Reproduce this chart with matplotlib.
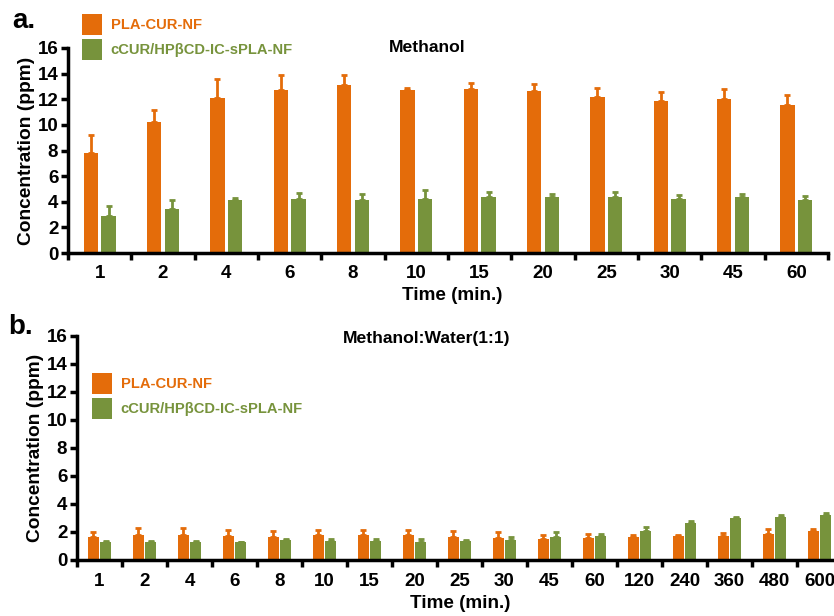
import matplotlib
matplotlib.use("Agg")
import matplotlib.pyplot as plt
import numpy as np

plt.rcParams['font.family'] = ['Liberation Sans', 'DejaVu Sans']
plt.rcParams['font.weight'] = 'bold'

ORANGE = '#E46C0A'
GREEN = '#77933C'

labels_a = ['1', '2', '4', '6', '8', '10', '15', '20', '25', '30', '45', '60']
pla_a = [7.8, 10.2, 12.1, 12.7, 13.1, 12.7, 12.8, 12.65, 12.2, 11.9, 12.0, 11.55]
pla_a_err = [1.4, 1.0, 1.5, 1.2, 0.8, 0.2, 0.5, 0.55, 0.7, 0.7, 0.8, 0.75]
ic_a = [2.9, 3.4, 4.1, 4.2, 4.1, 4.25, 4.35, 4.4, 4.4, 4.2, 4.35, 4.1]
ic_a_err = [0.75, 0.7, 0.2, 0.5, 0.5, 0.65, 0.4, 0.2, 0.35, 0.3, 0.25, 0.35]

labels_b = ['1', '2', '4', '6', '8', '10', '15', '20', '25', '30', '45', '60',
            '120', '240', '360', '480', '600']
pla_b = [1.64, 1.76, 1.76, 1.69, 1.64, 1.76, 1.76, 1.76, 1.66, 1.57, 1.52, 1.59,
         1.62, 1.69, 1.73, 1.88, 2.04]
pla_b_err = [0.36, 0.5, 0.54, 0.45, 0.43, 0.4, 0.4, 0.38, 0.43, 0.4, 0.26, 0.24,
             0.16, 0.09, 0.19, 0.35, 0.17]
ic_b = [1.28, 1.28, 1.28, 1.26, 1.43, 1.33, 1.33, 1.3, 1.33, 1.43, 1.66, 1.69,
        2.09, 2.66, 2.97, 3.09, 3.21]
ic_b_err = [0.1, 0.1, 0.1, 0.05, 0.09, 0.14, 0.19, 0.2, 0.1, 0.21, 0.31, 0.14,
            0.29, 0.12, 0.09, 0.14, 0.16]

series_names = ['PLA-CUR-NF', 'cCUR/HPβCD-IC-sPLA-NF']

fig = plt.figure(figsize=(8.34, 6.16), dpi=100)
W, H = 834.0, 616.0


def panel(ax, labels, v1, e1, v2, e2, width, off):
    x = np.arange(len(labels))
    b1 = ax.bar(x - off, v1, width, color=ORANGE, label=series_names[0], zorder=2)
    b2 = ax.bar(x + off, v2, width, color=GREEN, label=series_names[1], zorder=2)
    ax.errorbar(x - off, v1, yerr=[np.zeros(len(v1)), e1], fmt='none',
                ecolor=ORANGE, elinewidth=2, capsize=2.5, capthick=2, zorder=1)
    ax.errorbar(x + off, v2, yerr=[np.zeros(len(v2)), e2], fmt='none',
                ecolor=GREEN, elinewidth=2, capsize=2.5, capthick=2, zorder=1)
    ax.set_xlim(-0.5, len(labels) - 0.5)
    ax.set_ylim(0, 16)
    ax.set_yticks(np.arange(0, 17, 2))
    ax.set_xticks(x)
    ax.set_xticklabels(labels, fontsize=13.5, fontweight='bold')
    ax.set_xticks(np.arange(len(labels) + 1) - 0.5, minor=True)
    ax.tick_params(axis='x', which='major', length=0, pad=9)
    ax.tick_params(axis='x', which='minor', length=5, width=2.5, direction='out')
    ax.tick_params(axis='y', length=5, width=2.5, labelsize=13.5, pad=2)
    for t in ax.get_yticklabels():
        t.set_fontweight('bold')
    for s in ['top', 'right']:
        ax.spines[s].set_visible(False)
    ax.spines['left'].set_linewidth(2.5)
    ax.spines['bottom'].set_linewidth(2.5)
    ax.set_ylabel('Concentration (ppm)', fontsize=13.8, fontweight='bold', labelpad=2)
    return b1, b2


ax1 = fig.add_axes([68 / W, 1 - 253 / H, 760 / W, 205 / H])
h1 = panel(ax1, labels_a, pla_a, pla_a_err, ic_a, ic_a_err, 0.23, 0.14)
ax1.set_xlabel('Time (min.)', fontsize=13.6, fontweight='bold')
ax1.xaxis.set_label_coords((452 - 68) / 760, -(295 - 253) / 205)
ax1.xaxis.label.set_va('center')
fig.text(427 / W, 1 - 47 / H, 'Methanol', ha='center', va='center',
         fontsize=12.6, fontweight='bold')
fig.legend(handles=list(h1), loc='upper left', bbox_to_anchor=(82 / W, 1 - 14 / H),
           frameon=False, borderpad=0, borderaxespad=0, handlelength=1.35,
           handleheight=1.8, handletextpad=0.6, labelspacing=0.3,
           prop={'weight': 'bold', 'size': 10.6}, labelcolor=[ORANGE, GREEN])
fig.text(12 / W, 1 - 21 / H, 'a.', fontsize=20, fontweight='bold', va='center')

ax2 = fig.add_axes([77 / W, 1 - 560 / H, 765 / W, 224 / H])
h2 = panel(ax2, labels_b, pla_b, pla_b_err, ic_b, ic_b_err, 0.25, 0.14)
ax2.set_xlabel('Time (min.)', fontsize=13.6, fontweight='bold')
ax2.xaxis.set_label_coords((460 - 77) / 765, -(603 - 560) / 224)
ax2.xaxis.label.set_va('center')
fig.text(427 / W, 1 - 338 / H, 'Methanol:Water(1:1)', ha='center', va='center',
         fontsize=12.6, fontweight='bold')
fig.legend(handles=list(h2), loc='upper left', bbox_to_anchor=(92 / W, 1 - 373 / H),
           frameon=False, borderpad=0, borderaxespad=0, handlelength=1.35,
           handleheight=1.8, handletextpad=0.6, labelspacing=0.3,
           prop={'weight': 'bold', 'size': 10.6}, labelcolor=[ORANGE, GREEN])
fig.text(8 / W, 1 - 327 / H, 'b.', fontsize=20, fontweight='bold', va='center')

fig.savefig('out.png', dpi=100)
